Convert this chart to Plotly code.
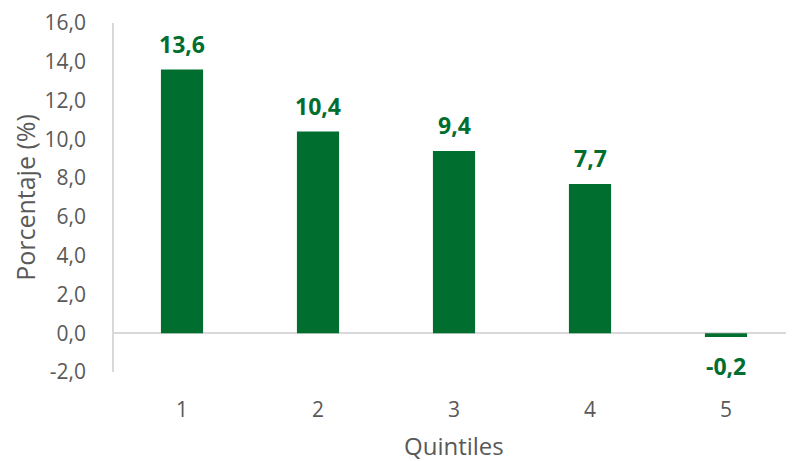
import plotly.graph_objects as go

categories = ["1", "2", "3", "4", "5"]
values = [13.6, 10.4, 9.4, 7.7, -0.2]
y_ticks = [-2, 0, 2, 4, 6, 8, 10, 12, 14, 16]
y_tick_labels = ["-2,0", "0,0", "2,0", "4,0", "6,0", "8,0", "10,0", "12,0", "14,0", "16,0"]
x_title = "Quintiles"
y_title = "Porcentaje (%)"

GREEN = "#006E2E"
GRAY = "#595959"
FONT = "Open Sans"

fig = go.Figure()
fig.add_trace(go.Bar(x=categories, y=values, marker_color=GREEN, width=0.31,
                     marker_line_width=0, hoverinfo="skip"))

for i, v in enumerate(values):
    lbl = f"{v:.1f}".replace(".", ",")
    fig.add_annotation(x=i, y=v, text=f"<b>{lbl}</b>", showarrow=False,
                       yanchor="bottom" if v >= 0 else "top",
                       yshift=8 if v >= 0 else -11,
                       font=dict(family=FONT, size=23, color=GREEN))

# x-axis title placed as a paper annotation below the tick labels
fig.add_annotation(xref="paper", yref="paper", x=0.5, y=0, yshift=-73,
                   xanchor="center", yanchor="middle", showarrow=False,
                   text=x_title, font=dict(family=FONT, size=24, color=GRAY))

# page body has an 8px margin, so the figure is sized to fit the 794x461 window
fig.update_layout(
    width=786, height=453,
    margin=dict(l=106, r=0, t=15, b=89),
    plot_bgcolor="white", paper_bgcolor="white",
    showlegend=False,
    font=dict(family=FONT, color=GRAY),
)
fig.update_yaxes(range=[-2, 16], tickvals=y_ticks, ticktext=y_tick_labels,
                 showgrid=False, zeroline=True, zerolinecolor="#D9D9D9", zerolinewidth=1.5,
                 showline=True, linecolor="#D9D9D9", linewidth=1.5,
                 automargin=False, ticklabeloverflow="allow",
                 ticklabelstandoff=22, tickfont=dict(size=21, color=GRAY),
                 title=dict(text=y_title, font=dict(size=25, color=GRAY), standoff=10))
fig.update_xaxes(type="category", showgrid=False, showline=False, ticks="",
                 automargin=False,
                 ticklabelstandoff=23, tickfont=dict(size=21, color=GRAY))

fig.write_html("out.html")
